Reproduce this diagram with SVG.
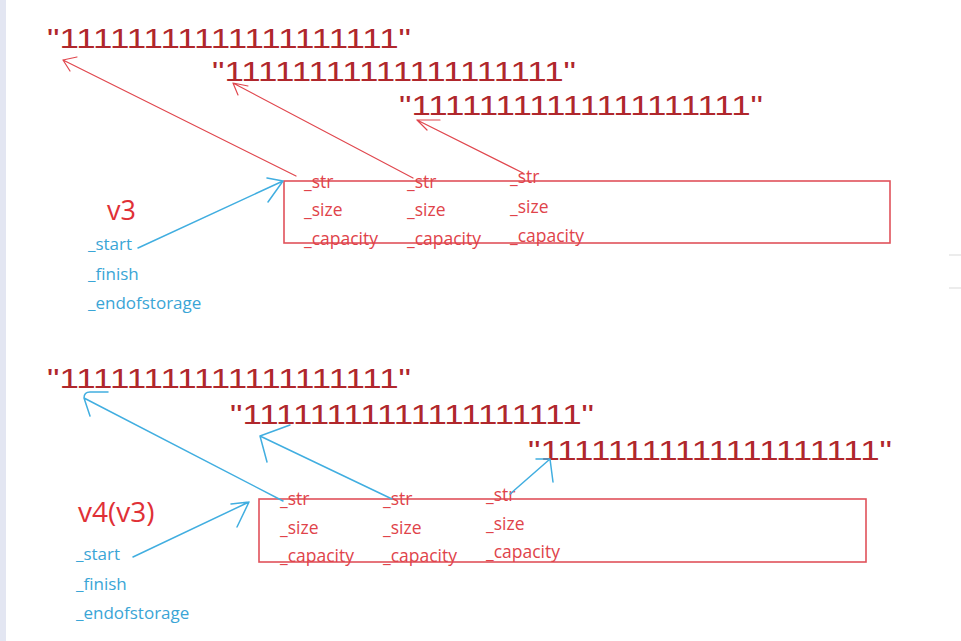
<svg xmlns="http://www.w3.org/2000/svg" width="961" height="641" viewBox="0 0 961 641">
<style>
.big{font-family:"Liberation Sans",Arial,sans-serif;font-size:28px;fill:#b0272c}
.fld{font-family:"Open Sans","Liberation Sans",sans-serif;font-size:17.5px;fill:#e0434a}
.ptr{font-family:"Open Sans","Liberation Sans",sans-serif;font-size:17px;fill:#3aa5d6}
.name{font-family:"Open Sans","Liberation Sans",sans-serif;fill:#e03036}
.box{fill:none;stroke:#e0525a;stroke-width:1.6}
.red{fill:none;stroke:#e0474e;stroke-width:1.2;stroke-linecap:round}
.blue{fill:none;stroke:#41aee0;stroke-width:1.5;stroke-linecap:round}
</style>
<rect width="961" height="641" fill="#ffffff"/>
<rect x="0" y="0" width="6" height="641" fill="#e3e6f2"/>
<line x1="949" y1="255" x2="961" y2="255" stroke="#e6e6e6" stroke-width="1.5"/>
<line x1="949" y1="288" x2="961" y2="288" stroke="#e6e6e6" stroke-width="1.5"/>

<g id="strings-top">
<text class="big" x="47" y="48" textLength="364" lengthAdjust="spacingAndGlyphs">"11111111111111111111"</text>
<text class="big" x="212" y="81" textLength="364" lengthAdjust="spacingAndGlyphs">"11111111111111111111"</text>
<text class="big" x="399" y="115" textLength="364" lengthAdjust="spacingAndGlyphs">"11111111111111111111"</text>
</g>

<g id="v3">
<text class="name" x="107" y="220" font-size="27">v3</text>
<text class="ptr" x="88" y="250">_start</text>
<text class="ptr" x="88" y="280">_finish</text>
<text class="ptr" x="88" y="309">_endofstorage</text>
</g>

<g id="box-top">
<rect class="box" x="284" y="181" width="606" height="62"/>
<text class="fld" x="304" y="188">_str</text>
<text class="fld" x="304" y="216">_size</text>
<text class="fld" x="304" y="245">_capacity</text>
<text class="fld" x="407" y="188">_str</text>
<text class="fld" x="407" y="216">_size</text>
<text class="fld" x="407" y="245">_capacity</text>
<text class="fld" x="510" y="183">_str</text>
<text class="fld" x="510" y="213">_size</text>
<text class="fld" x="510" y="242">_capacity</text>
</g>

<g id="strings-bottom">
<text class="big" x="47" y="388" textLength="364" lengthAdjust="spacingAndGlyphs">"11111111111111111111"</text>
<text class="big" x="230" y="424" textLength="364" lengthAdjust="spacingAndGlyphs">"11111111111111111111"</text>
<text class="big" x="528" y="460" textLength="364" lengthAdjust="spacingAndGlyphs">"11111111111111111111"</text>
</g>

<g id="v4">
<text class="name" x="78" y="522" font-size="28">v4(v3)</text>
<text class="ptr" x="76" y="560">_start</text>
<text class="ptr" x="76" y="590">_finish</text>
<text class="ptr" x="76" y="619">_endofstorage</text>
</g>

<g id="box-bottom">
<rect class="box" x="259" y="499" width="607" height="63"/>
<text class="fld" x="280" y="505">_str</text>
<text class="fld" x="280" y="534">_size</text>
<text class="fld" x="280" y="562">_capacity</text>
<text class="fld" x="383" y="505">_str</text>
<text class="fld" x="383" y="534">_size</text>
<text class="fld" x="383" y="562">_capacity</text>
<text class="fld" x="486" y="501">_str</text>
<text class="fld" x="486" y="530">_size</text>
<text class="fld" x="486" y="558">_capacity</text>
</g>

<g id="connectors">
<path class="red" d="M296,176 L63,60 M63,60 L77,57 M63,60 L70,71"/>
<path class="red" d="M413,178 L233,83 M233,83 L248,86 M233,83 L238,95"/>
<path class="red" d="M523,173 L417,120 M417,120 L440,120 M417,120 L427,130"/>
<path class="blue" d="M138,248 L283,181 M283,181 L267,178 M283,181 L268,202"/>
<path class="blue" d="M133,557 L249,502 M249,502 L231,504 M249,502 L237,527"/>
<path class="blue" d="M283,501 L84,398 M84,398 Q84,392 90,392 L108,392 M84,398 L90,416"/>
<path class="blue" d="M392,499 L260,436 M260,436 L290,425 M260,436 L267,462"/>
<path class="blue" d="M510,494 L550,459 M550,459 L536,459 M550,459 L553,482"/>
</g>
</svg>
